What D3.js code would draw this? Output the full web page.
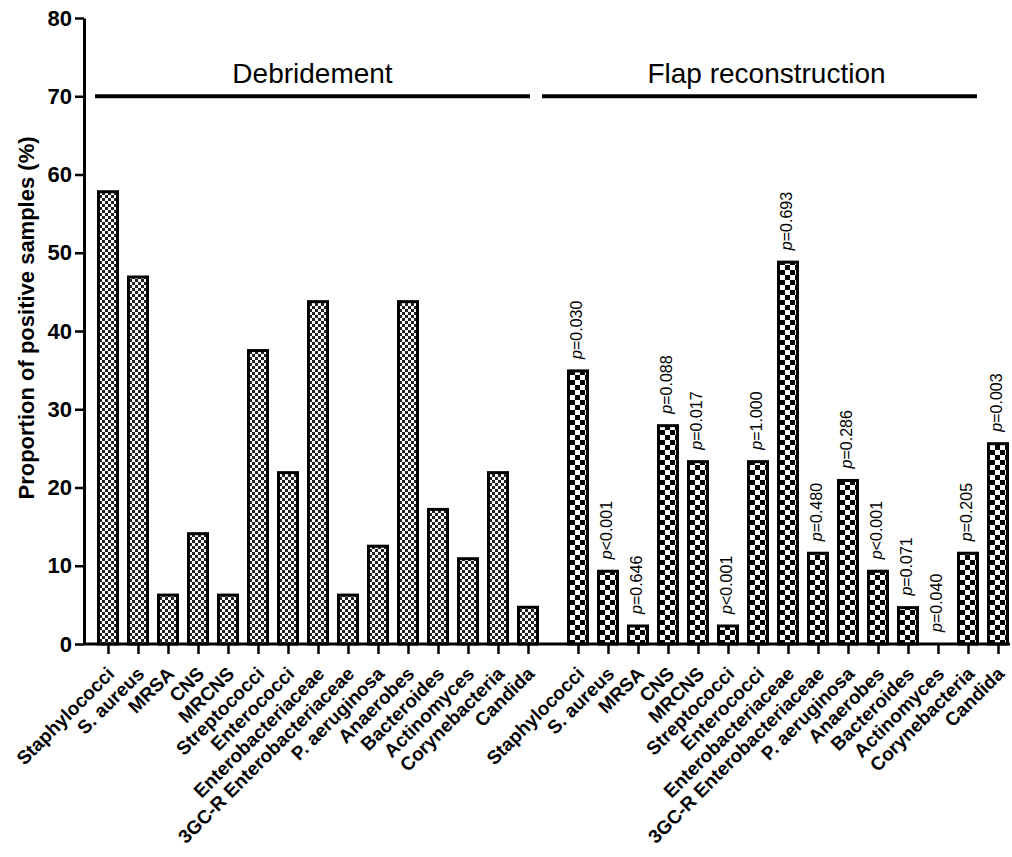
<!DOCTYPE html>
<html><head><meta charset="utf-8">
<script src="https://cdn.jsdelivr.net/npm/d3@7"></script>
<style>
body{margin:0;background:#fff}
svg{display:block}
text{font-family:"Liberation Sans",Arial,Helvetica,sans-serif;fill:#000}
</style>
</head><body>
<svg id="chart" width="1012" height="857"></svg>
<script>
// ---- data ----
const categories = ["Staphylococci","S. aureus","MRSA","CNS","MRCNS","Streptococci","Enterococci",
  "Enterobacteriaceae","3GC-R Enterobacteriaceae","P. aeruginosa","Anaerobes","Bacteroides",
  "Actinomyces","Corynebacteria","Candida"];
const groups = ["Debridement","Flap reconstruction"];
const debridementValues = [57.8,46.9,6.25,14.1,6.25,37.5,21.9,43.75,6.25,12.5,43.75,17.2,10.9,21.9,4.7];
const flapValues = [34.9,9.3,2.3,27.9,23.3,2.3,23.3,48.8,11.6,20.9,9.3,4.65,0,11.6,25.6];
const pValues = ["=0.030","<0.001","=0.646","=0.088","=0.017","<0.001","=1.000","=0.693",
  "=0.480","=0.286","<0.001","=0.071","=0.040","=0.205","=0.003"];
const yTicks = [0,10,20,30,40,50,60,70,80];
const yTitle = "Proportion of positive samples (%)";

// ---- layout ----
const svg = d3.select("#chart");
const y = d3.scaleLinear().domain([0,80]).range([644,18]);
const xDeb = d3.scalePoint().domain(categories).range([108,528]);
const xFlap = d3.scalePoint().domain(categories).range([578,998]);
const barW = 19;
const FONT = "'Liberation Sans',Arial,Helvetica,sans-serif";

// patterns
const defs = svg.append("defs");
const pd = defs.append("pattern").attr("id","patDeb").attr("patternUnits","userSpaceOnUse")
  .attr("width",6).attr("height",6);
pd.append("rect").attr("width",6).attr("height",6).attr("fill","#fff");
pd.append("rect").attr("x",0).attr("y",0).attr("width",3).attr("height",3).attr("fill","#222");
pd.append("rect").attr("x",3).attr("y",3).attr("width",3).attr("height",3).attr("fill","#222");
const pf = defs.append("pattern").attr("id","patFlap").attr("patternUnits","userSpaceOnUse")
  .attr("width",10).attr("height",10);
pf.append("rect").attr("width",10).attr("height",10).attr("fill","#fff");
pf.append("rect").attr("x",0).attr("y",0).attr("width",5).attr("height",5).attr("fill","#000");
pf.append("rect").attr("x",5).attr("y",5).attr("width",5).attr("height",5).attr("fill","#000");

// bars
function drawBars(vals, xs, pat){
  svg.append("g").selectAll("rect").data(categories).join("rect")
    .attr("x", d => xs(d) - barW/2)
    .attr("y", (d,i) => y(vals[i]))
    .attr("width", barW)
    .attr("height", (d,i) => y(0) - y(vals[i]))
    .attr("fill", `url(#${pat})`)
    .attr("stroke", "#000").attr("stroke-width", 3)
    .attr("display", (d,i) => vals[i] > 0 ? null : "none");
}
drawBars(debridementValues, xDeb, "patDeb");
drawBars(flapValues, xFlap, "patFlap");

// p-values
const pg = svg.append("g");
categories.forEach((c,i) => {
  const t = pg.append("text")
    .attr("transform", `translate(${xFlap(c)+4},${y(flapValues[i])-12}) rotate(-90)`)
    .attr("font-size", 16).attr("text-anchor","start");
  t.append("tspan").attr("font-style","italic").text("p");
  t.append("tspan").text(pValues[i]);
});

// y axis
const yAxis = d3.axisLeft(y).tickValues(yTicks).tickSize(9).tickSizeOuter(0).tickPadding(3);
const ya = svg.append("g").attr("transform","translate(84,0)").call(yAxis);
ya.select(".domain").attr("stroke-width",3);
ya.selectAll(".tick line").attr("stroke-width",2.5);
ya.selectAll(".tick text").attr("font-size",22).attr("font-weight","bold")
  .style("font-family",FONT);

// x axes (ticks + labels)
function drawX(xs){
  const ax = d3.axisBottom(xs).tickSize(10).tickSizeOuter(0);
  const g = svg.append("g").attr("transform",`translate(0,${y(0)})`).call(ax);
  g.select(".domain").remove();
  g.selectAll(".tick line").attr("stroke-width",2.5);
  g.selectAll(".tick text")
    .attr("font-size",19).attr("font-weight","bold")
    .style("font-family",FONT)
    .attr("text-anchor","end")
    .attr("x",0).attr("y",0).attr("dy",0)
    .attr("transform","translate(7,31) rotate(-45)");
}
drawX(xDeb);
drawX(xFlap);
svg.append("line").attr("x1",84).attr("x2",1010).attr("y1",y(0)).attr("y2",y(0))
  .attr("stroke","#000").attr("stroke-width",3);

// group brackets
const brackets = [
  {x1: xDeb(categories[0]) - 13, x2: xDeb(categories[14]) + 2, label: groups[0], dx: 0},
  {x1: xFlap(categories[0]) - 36, x2: xFlap(categories[14]) - 21, label: groups[1], dx: 7}
];
brackets.forEach(b => {
  svg.append("line").attr("x1",b.x1).attr("x2",b.x2).attr("y1",y(70)).attr("y2",y(70))
    .attr("stroke","#000").attr("stroke-width",4);
  svg.append("text").attr("x",(b.x1+b.x2)/2 + b.dx).attr("y",83).attr("text-anchor","middle")
    .attr("font-size",28).text(b.label);
});

// y title
svg.append("text").attr("transform","translate(34,318) rotate(-90)")
  .attr("text-anchor","middle").attr("font-size",22).attr("font-weight","bold").text(yTitle);
</script>
</body></html>
